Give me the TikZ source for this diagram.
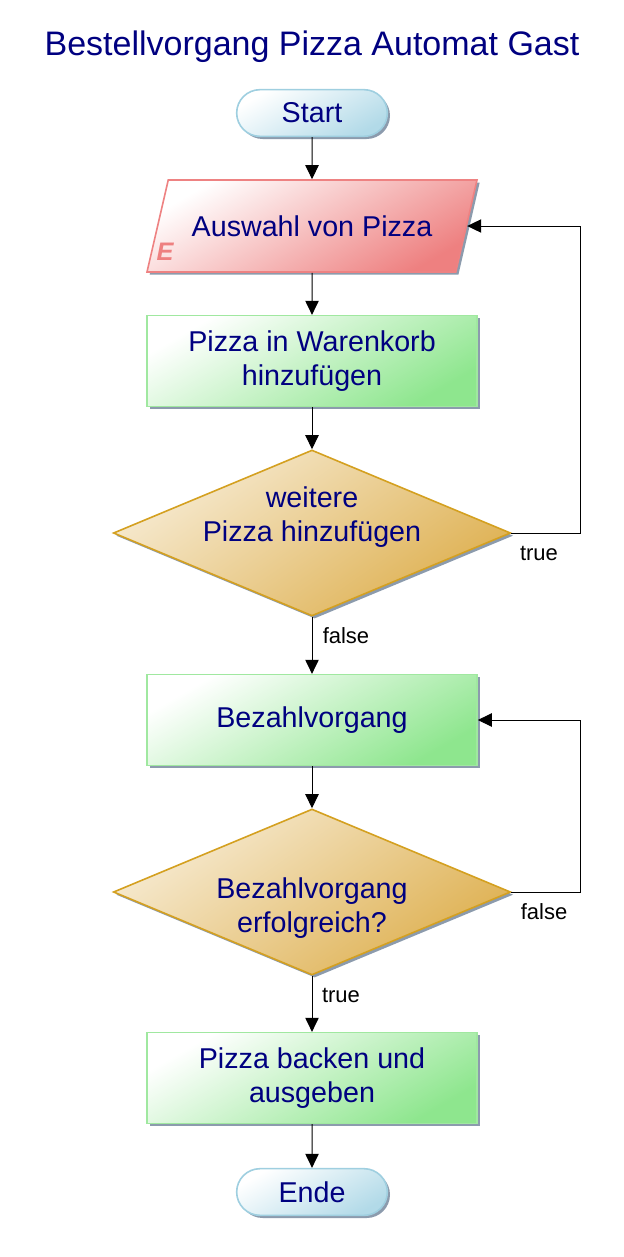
\documentclass[tikz,border=0pt]{standalone}
\usepackage{fontspec}
\setmainfont{Liberation Sans}
\usetikzlibrary{shapes.geometric, shapes.misc, shadows, arrows.meta}

\definecolor{textblue}{HTML}{000080}
\definecolor{termline}{HTML}{9FCFE0}
\definecolor{termfill}{HTML}{B2DAE8}
\definecolor{inline}{HTML}{EE8282}
\definecolor{infill}{HTML}{EE8080}
\definecolor{procline}{HTML}{A0E8A0}
\definecolor{procfill}{HTML}{8EE68E}
\definecolor{decline}{HTML}{D4A020}
\definecolor{decfill}{HTML}{DEB050}
\definecolor{shadowgray}{HTML}{7F90A4}

\tikzset{
  shape base/.style = {line width = 1.2pt, font = \fontsize{21.5}{25}\selectfont,
    text = textblue, align = center,
    drop shadow = {shadow xshift = 2pt, shadow yshift = -2pt,
      fill = shadowgray, opacity = 0.9}},
  terminal/.style = {shape base, rounded rectangle, draw = termline,
    top color = white, bottom color = termfill, shading angle = 30,
    minimum width = 113pt, minimum height = 35pt, inner sep = 0pt},
  inputbox/.style = {shape base, trapezium, trapezium left angle = 77,
    trapezium right angle = 103, trapezium stretches body = true,
    draw = inline, top color = white, bottom color = infill,
    shading angle = 30, text height = 15.5pt, text depth = 0pt,
    inner ysep = 26.75pt, minimum width = 247.5pt},
  process/.style = {shape base, rectangle, draw = procline,
    top color = white, bottom color = procfill, shading angle = 30,
    minimum width = 247.5pt, minimum height = 68pt},
  decision/.style = {shape base, diamond, draw = decline,
    top color = decfill!25, bottom color = decfill, shading angle = 35,
    minimum width = 298pt, minimum height = 124.5pt, inner sep = 0pt},
  dectext/.style = {font = \fontsize{21.5}{25}\selectfont, text = textblue,
    align = center},
  flow/.style = {line width = 0.75pt, -{Triangle[length = 10.5pt, width = 10pt]}},
  branch/.style = {font = \fontsize{16.5}{20}\selectfont, text = black}
}

\begin{document}
\begin{tikzpicture}[x = 0.75pt, y = -0.75pt]
  \useasboundingbox (0, 0) rectangle (624, 1257);

  \node[font = \fontsize{25.5}{30}\selectfont, text = textblue] (title)
    at (312, 47) {Bestellvorgang Pizza Automat Gast};

  \node[terminal] (start) at (312, 113) {Start};
  \node[inputbox] (select) at (312, 226) {Auswahl von Pizza};
  \node[font = \fontsize{19}{22}\selectfont\bfseries\itshape, text = infill]
    (selectmark) at (165, 252) {E};
  \node[process] (cart) at (312, 361) {Pizza in Warenkorb\\hinzufügen};
  \node[decision] (more) at (312, 533) {};
  \node[dectext] (moretext) at (312, 517) {weitere\\Pizza hinzufügen};
  \node[process] (pay) at (312, 720) {Bezahlvorgang};
  \node[decision] (paid) at (312, 892) {};
  \node[dectext] (paidtext) at (312, 908) {Bezahlvorgang\\erfolgreich?};
  \node[process] (bake) at (312, 1078) {Pizza backen und\\ausgeben};
  \node[terminal] (end) at (312, 1192) {Ende};

  \coordinate (moreback) at (580, 533);
  \coordinate (paidback) at (580, 892);

  \draw[flow] (start) -- (select);
  \draw[flow] (select) -- (cart);
  \draw[flow] (cart) -- (more);
  \draw[flow] (more) -- (pay);
  \draw[flow] (pay) -- (paid);
  \draw[flow] (paid) -- (bake);
  \draw[flow] (bake) -- (end);
  \draw[flow] (more.east) -- (moreback) |- (select.east);
  \draw[flow] (paid.east) -- (paidback) |- (pay.east);

  \node[branch] (moretrue) at (539, 553) {true};
  \node[branch] (morefalse) at (346, 636) {false};
  \node[branch] (paidfalse) at (544, 912) {false};
  \node[branch] (paidtrue) at (341, 995) {true};
\end{tikzpicture}
\end{document}
